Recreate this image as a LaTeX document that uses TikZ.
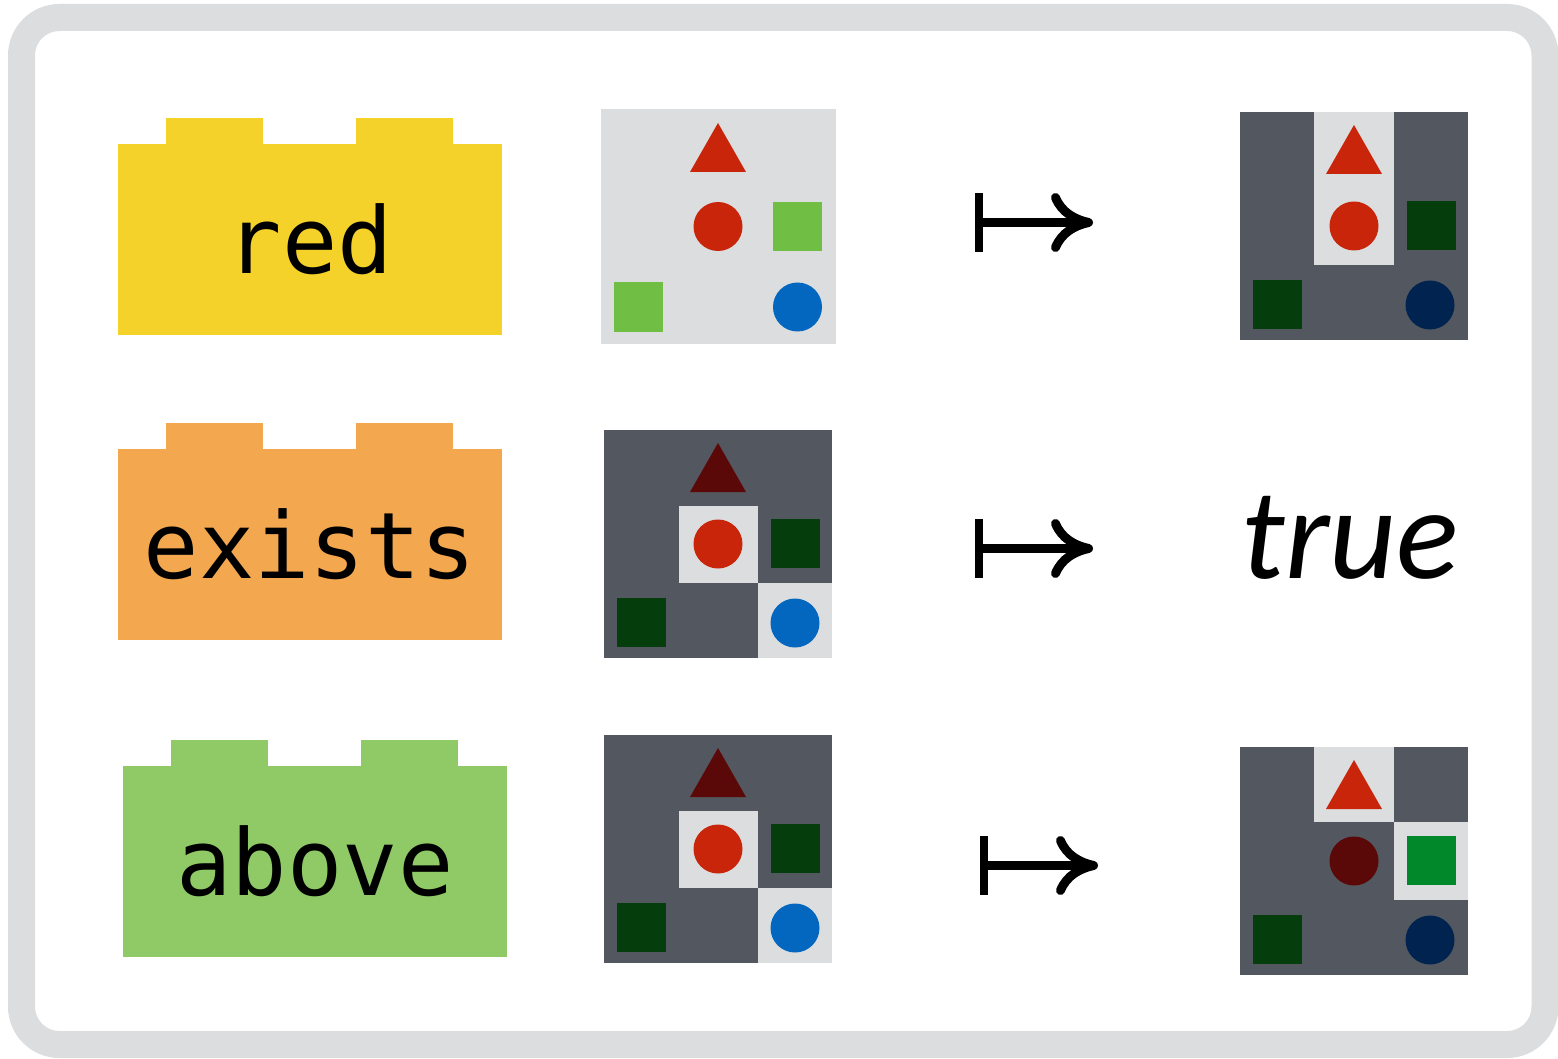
\documentclass[tikz,border=0pt]{standalone}
\usepackage{fontspec}
\setmonofont{DejaVu Sans Mono}
\newfontfamily\truefont{Carlito}
\usetikzlibrary{arrows.meta}
\definecolor{framegray}{HTML}{DCDDDF}
\definecolor{cellgray}{HTML}{DCDDDF}
\definecolor{cellgrid}{HTML}{535860}
\definecolor{brickyellow}{HTML}{F5D22A}
\definecolor{brickorange}{HTML}{F3A74F}
\definecolor{brickgreen}{HTML}{8FCA67}
\definecolor{shred}{HTML}{C8250A}
\definecolor{shgreen}{HTML}{70BE44}
\definecolor{shblue}{HTML}{0366BF}
\definecolor{darkred}{HTML}{5A0808}
\definecolor{darkgreen}{HTML}{063D0C}
\definecolor{midgreen}{HTML}{00882B}
\definecolor{navy}{HTML}{00244F}
\newcommand{\tri}[3]{\fill[#1] (#2,#3) +(0,-25) -- +(28,24) -- +(-28,24) -- cycle;}
\newcommand{\disc}[3]{\fill[#1] (#2,#3) circle (24.5pt);}
\newcommand{\sq}[3]{\fill[#1] (#2,#3) +(-24.5,-24.5) rectangle +(24.5,24.5);}
\tikzset{
  brick/.style={rectangle, inner sep=0pt, minimum width=384pt, minimum height=191pt,
    font=\fontsize{92}{92}\selectfont\ttfamily},
  mapsto/.style={line width=9pt,
    {Bar[width=59pt,line width=8pt]}-{Computer Modern Rightarrow[length=42pt,width=59pt]}},
}

\begin{document}
\begin{tikzpicture}[x=1pt,y=-1pt]
\useasboundingbox (0,0) rectangle (1558,1059);
\fill[white] (0,0) rectangle (1558,1059);
% Frame
\draw[color=framegray, line width=27pt, rounded corners=38pt] (21.5,17.5) rectangle (1545,1044.5);
% Bricks
\node[brick, fill=brickyellow] (red) at (310,239.5) {red};
\fill[brickyellow] ([xshift=48pt]red.north west) rectangle ++(97,-26);
\fill[brickyellow] ([xshift=238pt]red.north west) rectangle ++(97,-26);
\node[brick, fill=brickorange] (exists) at (310,544.5) {exists};
\fill[brickorange] ([xshift=48pt]exists.north west) rectangle ++(97,-26);
\fill[brickorange] ([xshift=238pt]exists.north west) rectangle ++(97,-26);
\node[brick, fill=brickgreen] (above) at (315,861.5) {above};
\fill[brickgreen] ([xshift=48pt]above.north west) rectangle ++(97,-26);
\fill[brickgreen] ([xshift=238pt]above.north west) rectangle ++(97,-26);
% Input scene 1
\fill[cellgray] (601,109) rectangle (836,344);
\tri{shred}{718}{148}
\disc{shred}{718}{226.5}
\sq{shgreen}{797.5}{226.5}
\sq{shgreen}{638.5}{307}
\disc{shblue}{797.5}{307}
% Input scene 2
\fill[cellgrid] (604,430) rectangle (832,658);
\fill[cellgray] (679,506) rectangle (758,583);
\fill[cellgray] (758,583) rectangle (832,658);
\tri{darkred}{718}{468}
\disc{shred}{718}{544}
\sq{darkgreen}{795}{543.5}
\sq{darkgreen}{641}{622.5}
\disc{shblue}{795}{623}
% Input scene 3
\fill[cellgrid] (604,735) rectangle (832,963);
\fill[cellgray] (679,811) rectangle (758,888);
\fill[cellgray] (758,888) rectangle (832,963);
\tri{darkred}{718}{773}
\disc{shred}{718}{849}
\sq{darkgreen}{795}{848.5}
\sq{darkgreen}{641}{927.5}
\disc{shblue}{795}{928}
% Maps-to arrows
\coordinate (m1a) at (975,222.5);
\coordinate (m1b) at (1093,222.5);
\coordinate (m2a) at (975,548.5);
\coordinate (m2b) at (1093,548.5);
\coordinate (m3a) at (980,865.5);
\coordinate (m3b) at (1098,865.5);
\draw[mapsto] (m1a) -- (m1b);
\draw[mapsto] (m2a) -- (m2b);
\draw[mapsto] (m3a) -- (m3b);
% Output 1
\fill[cellgrid] (1240,112) rectangle (1468,340);
\fill[cellgray] (1314,112) rectangle (1394,265);
\tri{shred}{1354}{150}
\disc{shred}{1354}{226}
\sq{darkgreen}{1431}{225.5}
\sq{darkgreen}{1277}{304.5}
\disc{navy}{1430}{305}
% Output 2
\node[font=\truefont\itshape\fontsize{130}{130}\selectfont] (true) at (1350,538) {true};
% Output 3
\fill[cellgrid] (1240,747) rectangle (1468,975);
\fill[cellgray] (1314,747) rectangle (1394,822);
\fill[cellgray] (1394,822) rectangle (1468,900);
\tri{shred}{1354}{785}
\disc{darkred}{1354}{861}
\sq{midgreen}{1431}{860.5}
\sq{darkgreen}{1277}{939.5}
\disc{navy}{1430}{940}
\end{tikzpicture}
\end{document}
